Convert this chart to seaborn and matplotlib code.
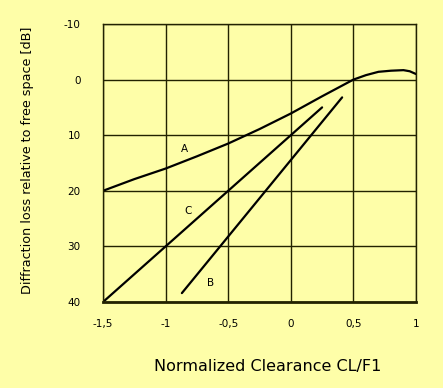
import matplotlib
matplotlib.use("Agg")
import matplotlib.pyplot as plt
import seaborn as sns
import pandas as pd

# curve A (knife-edge style)
a_x = [-1.5, -1.25, -1.0, -0.75, -0.5, -0.25, 0.0, 0.25, 0.5, 0.6, 0.7, 0.8, 0.9, 0.95, 1.0]
a_y = [20.0, 17.9, 16.0, 13.8, 11.5, 8.9, 6.1, 3.0, 0.0, -0.8, -1.4, -1.6, -1.7, -1.5, -1.0]
# straight lines B and C
b_x = [-0.87, 0.41]
b_y = [38.4, 3.2]
c_x = [-1.5, 0.25]
c_y = [40.0, 5.0]

x_ticks = [-1.5, -1.0, -0.5, 0.0, 0.5, 1.0]
x_labels = ["-1,5", "-1", "-0,5", "0", "0,5", "1"]
y_ticks = [-10, 0, 10, 20, 30, 40]

bg = "#fefea8"
sns.set_style("white", {"axes.facecolor": bg, "figure.facecolor": bg,
                        "text.color": "black", "axes.labelcolor": "black",
                        "xtick.color": "black", "ytick.color": "black"})
plt.rcParams["font.family"] = ["DejaVu Sans"]
plt.rcParams["axes.unicode_minus"] = False

fig = plt.figure(figsize=(4.43, 3.88), dpi=100)
ax = fig.add_axes([103 / 443, 1 - 302 / 388, 313 / 443, 278 / 388])

df_a = pd.DataFrame({"x": a_x, "y": a_y})
df_b = pd.DataFrame({"x": b_x, "y": b_y})
df_c = pd.DataFrame({"x": c_x, "y": c_y})
for d in (df_a, df_b, df_c):
    sns.lineplot(data=d, x="x", y="y", ax=ax, color="black", linewidth=1.6,
                 sort=False, estimator=None)

ax.text(-0.85, 12.4, "A", fontsize=7.5, ha="center", va="center")
ax.text(-0.82, 23.6, "C", fontsize=7.5, ha="center", va="center")
ax.text(-0.64, 36.5, "B", fontsize=7.5, ha="center", va="center")

ax.set_xlim(-1.5, 1.0)
ax.set_ylim(40, -10)
ax.set_xticks(x_ticks)
ax.set_xticklabels(x_labels)
ax.set_yticks(y_ticks)
ax.grid(True, color="#222200", linewidth=1.0)
ax.tick_params(length=0, labelsize=7.5, pad=12)
ax.tick_params(axis="y", pad=16)
for s in ax.spines.values():
    s.set_color("#222200")
    s.set_linewidth(1.0)
ax.spines["bottom"].set_linewidth(2.0)

ax.set_xlabel("Normalized Clearance CL/F1", fontsize=11.5)
ax.set_ylabel("Diffraction loss relative to free space [dB]", fontsize=9.2)
ax.xaxis.set_label_coords(0.527, -0.205)
ax.yaxis.set_label_coords(-0.22, 0.51)

fig.savefig("out.png", dpi=100, facecolor=bg)
plt.close(fig)
